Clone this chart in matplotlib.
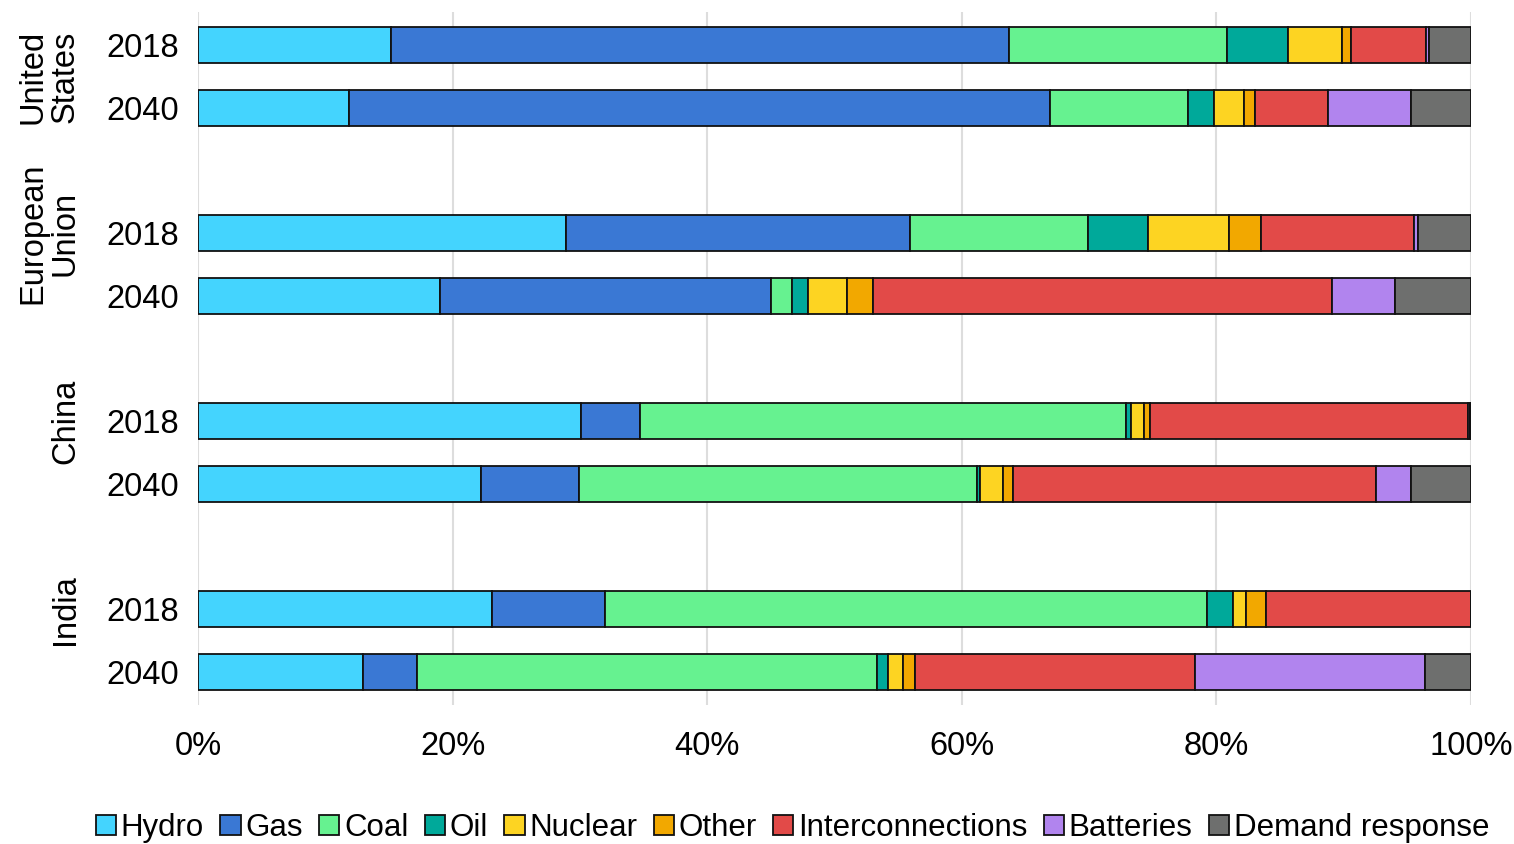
import matplotlib.pyplot as plt
import numpy as np

plt.rcParams['font.family'] = ['Liberation Sans', 'DejaVu Sans']

# 데이터 (%)
regions = ['United\nStates', 'European\nUnion', 'China', 'India']
years = ['2018', '2040']
sources = ['Hydro', 'Gas', 'Coal', 'Oil', 'Nuclear', 'Other',
           'Interconnections', 'Batteries', 'Demand response']
colors = ['#44D4FE', '#3A78D4', '#66F290', '#00A99A', '#FDD422',
          '#F2A800', '#E24A48', '#B184EE', '#6E6F6E']

# 행 순서: US 2018, US 2040, EU 2018, EU 2040, China 2018, China 2040, India 2018, India 2040
hydro   = [15.2, 11.9, 28.9, 19.0, 30.1, 22.2, 23.1, 13.0]
gas     = [48.5, 55.0, 27.0, 26.0,  4.6,  7.7,  8.9,  4.2]
coal    = [17.1, 10.9, 14.0,  1.7, 38.2, 31.3, 47.3, 36.1]
oil     = [ 4.8,  2.0,  4.7,  1.2,  0.4,  0.2,  2.0,  0.9]
nuclear = [ 4.3,  2.4,  6.4,  3.1,  1.0,  1.8,  1.0,  1.2]
other   = [ 0.7,  0.8,  2.5,  2.0,  0.5,  0.8,  1.6,  0.9]
interco = [ 5.9,  5.8, 12.0, 36.1, 25.0, 28.5, 16.1, 22.0]
batt    = [ 0.2,  6.5,  0.3,  4.9,  0.1,  2.8,  0.0, 18.1]
demand  = [ 3.3,  4.7,  4.2,  6.0,  0.1,  4.7,  0.0,  3.6]

series = [hydro, gas, coal, oil, nuclear, other, interco, batt, demand]

# 막대 위치 (그룹 사이에 빈 행 하나)
positions = np.array([0, 1, 3, 4, 6, 7, 9, 10])
region_label_pos = [0.5, 3, 6, 9]

fig = plt.figure(figsize=(15.14, 8.44), dpi=100)
ax = fig.add_axes([198 / 1514, 1 - 705 / 844, (1471 - 198) / 1514, (705 - 12) / 844])

left = np.zeros(len(positions))
for name, vals, col in zip(sources, series, colors):
    vals = np.array(vals)
    ax.barh(positions, vals, left=left, height=0.57, color=col,
            edgecolor='#111111', linewidth=1.3, label=name, zorder=3)
    left += vals

ax.set_xlim(0, 100)
ax.set_ylim(10.53, -0.53)
ax.set_xticks(np.arange(0, 101, 20))
ax.set_xticklabels([f'{v}%' for v in range(0, 101, 20)], fontsize=23.5)
ax.set_yticks(positions)
ax.set_yticklabels(years * 4, fontsize=23.5)
ax.tick_params(axis='y', length=0, pad=14)
ax.tick_params(axis='x', length=0, pad=19)
ax.grid(axis='x', color='#DDDDDD', linewidth=1.5, zorder=0)
for s in ax.spines.values():
    s.set_visible(False)

# 지역 라벨
for label, pos in zip(regions, region_label_pos):
    y_fig = 1 - (12 + (pos + 0.53) * (693 / 11.06)) / 844
    fig.text(81 / 1514, y_fig, label, rotation=90, ha='right', va='center',
             multialignment='center', fontsize=23.5, linespacing=1.05)

# 범례
fig.legend(loc='center', bbox_to_anchor=(0.5235, 1 - 828 / 844), ncol=9,
           fontsize=22.5, frameon=False, handlelength=0.65, handleheight=0.65,
           handletextpad=0.15, columnspacing=0.52, borderaxespad=0)

fig.savefig('out.png', dpi=100)
